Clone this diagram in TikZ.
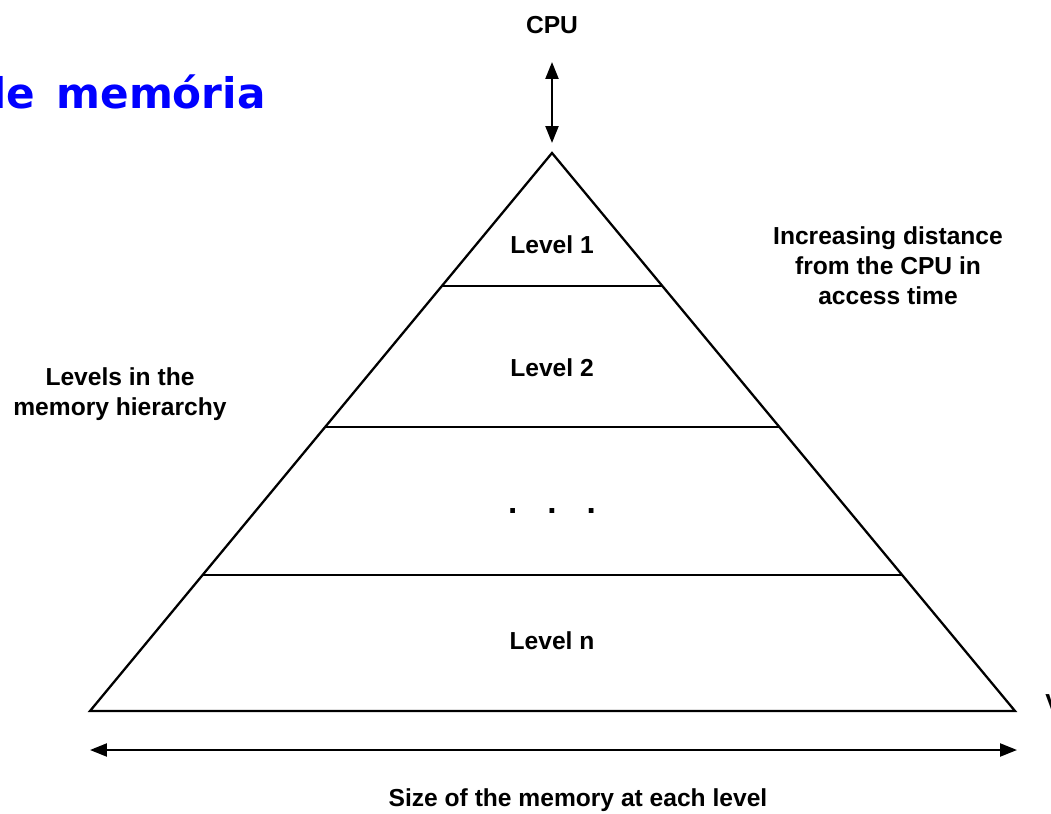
\documentclass[tikz,border=0pt]{standalone}
\usepackage{fontspec}
\setmainfont{Liberation Sans}
\newfontfamily\titlefont{DejaVu Sans}
\usetikzlibrary{arrows.meta, positioning, calc}
\tikzset{
  lvl/.style={font=\fontsize{14}{16}\selectfont\bfseries, align=center},
  note/.style={font=\fontsize{14}{17}\selectfont\bfseries, align=center},
  edge/.style={line width=1.3pt, line join=miter},
  arr/.style={{Triangle[length=3.4mm, width=2.6mm]}-{Triangle[length=3.4mm, width=2.6mm]}, line width=1.3pt},
}

\begin{document}
\begin{tikzpicture}[x=0.02cm, y=-0.02cm]
    \useasboundingbox (0,0) rectangle (1051,814);
    % title, cut at the left border
    \begin{scope}
      \clip (0,0) rectangle (1051,814);
      \node[font=\titlefont\fontsize{24}{28}\selectfont\bfseries, text=blue, inner sep=0pt, anchor=base east] (title) at (266,109) {de\hspace{0.15em} memória};
      \node[lvl, anchor=west, inner sep=0pt] (edgetxt) at (1045,703) {V};
    \end{scope}
    % pyramid
    \coordinate (top) at (552,153);
    \coordinate (bl) at (90,711);
    \coordinate (br) at (1015,711);
    \draw[edge] (top) -- (bl) -- (br) -- cycle;
    \foreach \t in {0.2384, 0.491, 0.7563}
      \draw[edge] ($(top)!\t!(bl)$) -- ($(top)!\t!(br)$);
    \node[lvl] (l1) at (552,245) {Level 1};
    \node[lvl] (l2) at (552,368) {Level 2};
    \node[lvl, font=\fontsize{19}{20}\selectfont\bfseries] (dots) at (552,511) {.\hspace{0.6cm}.\hspace{0.6cm}.};
    \node[lvl] (ln) at (552,641) {Level n};
    % CPU link
    \node[lvl] (cpu) at (552,25) {CPU};
    \coordinate (cpuend) at (552,62);
    \coordinate (topend) at (552,143);
    \draw[arr] (cpuend) -- (topend);
    % size arrow
    \coordinate (sizel) at (90,750);
    \coordinate (sizer) at (1017,750);
    \draw[arr] (sizel) -- (sizer);
    \node[lvl] (size) at (578,800) {Size of the memory at each level};
    % side notes
    \node[note] (levels) at (120,394) {Levels in the\\memory hierarchy};
    \node[note] (dist) at (888,266) {Increasing distance\\from the CPU in\\access time};
\end{tikzpicture}
\end{document}
